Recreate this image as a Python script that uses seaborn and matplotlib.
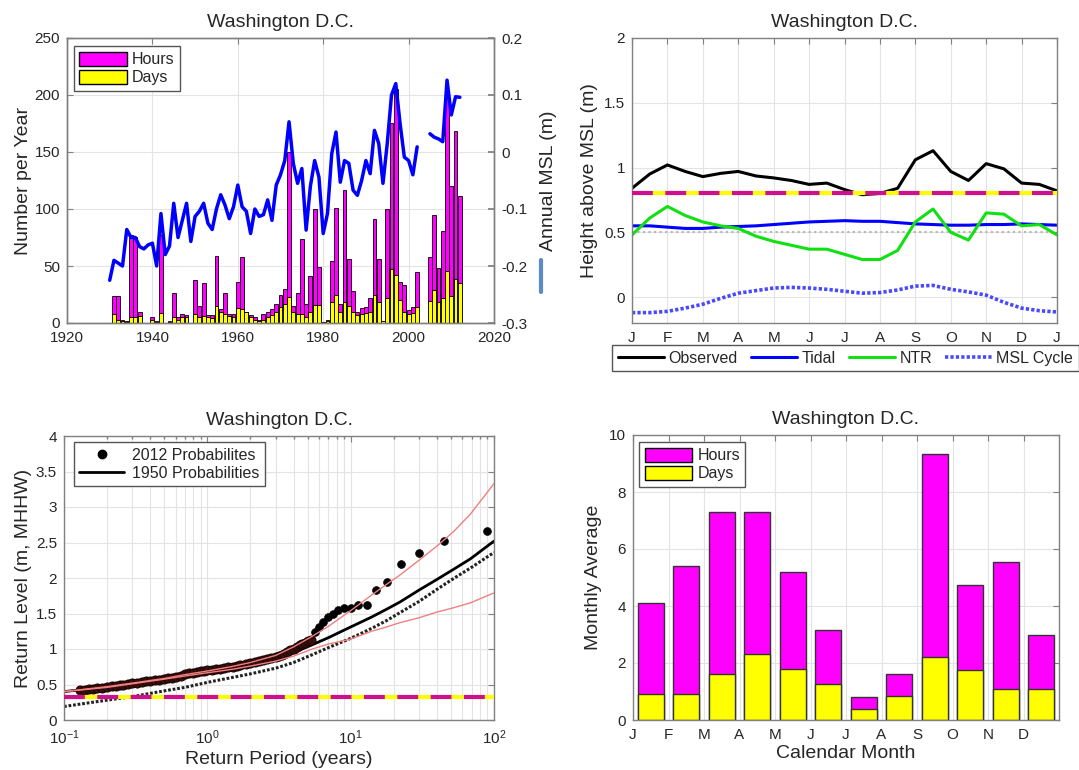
import numpy as np
import seaborn as sns
from matplotlib import pyplot as plt
from matplotlib.patches import Patch
from matplotlib.lines import Line2D

# ---------------- data ----------------
station = "Washington D.C."

# annual nuisance flooding (top left)
years = list(range(1931, 2013))
hours_per_year = [24, 24, 3, 2, 77, 75, 10, 0, 0, 5, 2, 77, 0, 2, 26, 5, 8, 7, 0, 38,
                  15, 35, 7, 7, 59, 12, 26, 8, 8, 36, 58, 10, 7, 5, 3, 8, 10, 12, 17, 25,
                  30, 150, 15, 26, 74, 17, 41, 100, 49, 1, 3, 54, 101, 17, 117, 56, 28, 10, 13, 14,
                  22, 91, 56, 2, 100, 175, 205, 36, 33, 11, 14, 45, 0, 0, 58, 95, 48, 81, 202, 120,
                  168, 111]
days_per_year = [8, 3, 2, 1, 5, 5, 6, 0, 0, 3, 1, 9, 0, 1, 5, 3, 5, 5, 0, 8,
                 5, 6, 5, 4, 15, 10, 8, 6, 5, 13, 12, 10, 5, 3, 2, 3, 5, 7, 10, 14,
                 17, 23, 10, 8, 8, 5, 10, 16, 16, 1, 2, 18, 25, 10, 18, 15, 10, 7, 8, 9,
                 10, 25, 18, 2, 22, 47, 42, 20, 10, 8, 9, 14, 0, 0, 19, 29, 18, 22, 46, 24,
                 39, 35]

msl_years_a = list(range(1930, 2003))
msl_a = [-0.225, -0.19, -0.195, -0.20, -0.136, -0.15, -0.15, -0.166, -0.17, -0.163,
         -0.16, -0.20, -0.108, -0.18, -0.165, -0.09, -0.15, -0.12, -0.09, -0.157,
         -0.113, -0.104, -0.09, -0.125, -0.136, -0.10, -0.075, -0.093, -0.117, -0.096,
         -0.058, -0.096, -0.104, -0.143, -0.10, -0.113, -0.11, -0.084, -0.12, -0.058,
         -0.04, -0.015, 0.053, -0.02, -0.055, -0.029, -0.137, -0.06, -0.015, -0.044,
         -0.143, -0.108, -0.003, 0.035, -0.053, -0.015, -0.02, -0.067, -0.076, -0.05,
         -0.015, -0.038, 0.038, 0.015, -0.055, 0.015, 0.10, 0.12, 0.05, -0.009,
         -0.015, -0.04, 0.009]
msl_years_b = list(range(2005, 2013))
msl_b = [0.032, 0.026, 0.023, 0.018, 0.126, 0.065, 0.097, 0.096]

# seasonal cycle (top right), every half month from Jan 1 to Jan 1
season_pos = [0, 0.5, 1, 1.5, 2, 2.5, 3, 3.5, 4, 4.5, 5, 5.5, 6, 6.5, 7, 7.5, 8, 8.5,
              9, 9.5, 10, 10.5, 11, 11.5, 12]
observed = [0.84, 0.95, 1.02, 0.97, 0.93, 0.955, 0.97, 0.935, 0.92, 0.90, 0.87, 0.88, 0.83,
            0.79, 0.80, 0.84, 1.06, 1.13, 0.97, 0.90, 1.03, 0.99, 0.88, 0.87, 0.82]
tidal = [0.55, 0.55, 0.54, 0.53, 0.53, 0.54, 0.545, 0.55, 0.56, 0.57, 0.58, 0.585, 0.59,
         0.585, 0.585, 0.575, 0.565, 0.56, 0.555, 0.555, 0.56, 0.56, 0.565, 0.56, 0.555]
ntr = [0.48, 0.61, 0.70, 0.63, 0.58, 0.55, 0.53, 0.47, 0.43, 0.40, 0.37, 0.37, 0.33,
       0.29, 0.29, 0.36, 0.58, 0.68, 0.50, 0.44, 0.65, 0.64, 0.55, 0.56, 0.48]
msl_cycle = [-0.12, -0.12, -0.11, -0.085, -0.055, -0.01, 0.03, 0.05, 0.07, 0.075, 0.07,
             0.06, 0.045, 0.03, 0.035, 0.055, 0.085, 0.09, 0.06, 0.04, 0.015, -0.04,
             -0.085, -0.105, -0.115]
season_labels = ["J", "F", "M", "A", "M", "J", "J", "A", "S", "O", "N", "D", "J"]
flood_msl = 0.8
mhhw_msl = 0.5

# return levels (bottom left)
rp_dense = [0.13, 0.14, 0.15, 0.16, 0.17, 0.185, 0.2, 0.215, 0.23, 0.245, 0.26, 0.28, 0.3,
            0.325, 0.35, 0.375, 0.4, 0.43, 0.46, 0.5, 0.53, 0.57, 0.6, 0.65, 0.7, 0.75, 0.8,
            0.85, 0.9, 0.95, 1.0, 1.07, 1.15, 1.22, 1.3, 1.4, 1.5, 1.6, 1.7, 1.85, 2.0, 2.15,
            2.3, 2.45, 2.6, 2.8, 3.0, 3.15, 3.3, 3.45, 3.6, 3.8, 4.0, 4.2, 4.4, 4.6, 4.8,
            5.05, 5.3]
rl_dense = [0.42, 0.425, 0.43, 0.438, 0.445, 0.455, 0.465, 0.472, 0.48, 0.488, 0.495, 0.505,
            0.515, 0.525, 0.535, 0.543, 0.55, 0.56, 0.57, 0.582, 0.59, 0.598, 0.605, 0.625,
            0.645, 0.655, 0.665, 0.675, 0.685, 0.693, 0.70, 0.708, 0.715, 0.722, 0.73, 0.74,
            0.75, 0.76, 0.77, 0.785, 0.80, 0.815, 0.83, 0.845, 0.86, 0.875, 0.89, 0.90, 0.91,
            0.935, 0.96, 0.98, 1.0, 1.025, 1.05, 1.07, 1.09, 1.11, 1.13]
rp_2012 = [90, 45, 30, 22.5, 18, 15, 12.9, 11.25, 10, 9, 8.2, 7.5, 6.9, 6.4, 6.0, 5.6]
rl_2012 = [2.66, 2.52, 2.355, 2.195, 1.94, 1.83, 1.615, 1.615, 1.58, 1.575, 1.555, 1.50,
           1.445, 1.385, 1.315, 1.245]
rp_fit = [0.1, 0.2, 0.3, 0.5, 0.7, 1, 1.5, 2, 3, 4, 5.4, 7, 10, 14, 17.8, 22, 30, 40, 52,
          68.5, 100]
rl_1950 = [0.40, 0.465, 0.515, 0.58, 0.63, 0.68, 0.74, 0.79, 0.87, 0.95, 1.06, 1.16, 1.31,
           1.45, 1.56, 1.66, 1.83, 1.98, 2.12, 2.27, 2.52]
rl_dotted = [0.19, 0.28, 0.33, 0.41, 0.46, 0.53, 0.60, 0.65, 0.73, 0.81, 0.92, 1.02, 1.15,
             1.29, 1.40, 1.51, 1.67, 1.84, 1.99, 2.14, 2.36]
rl_upper = [0.40, 0.47, 0.52, 0.585, 0.64, 0.69, 0.755, 0.81, 0.91, 1.03, 1.18, 1.32, 1.54,
            1.76, 1.91, 2.04, 2.25, 2.45, 2.65, 2.90, 3.33]
rl_lower = [0.40, 0.46, 0.51, 0.575, 0.62, 0.665, 0.715, 0.76, 0.83, 0.90, 1.00, 1.07, 1.14,
            1.25, 1.31, 1.37, 1.44, 1.52, 1.58, 1.65, 1.79]
flood_mhhw = 0.32

# monthly averages (bottom right)
months = ["J", "F", "M", "A", "M", "J", "J", "A", "S", "O", "N", "D"]
monthly_hours = [4.1, 5.4, 7.3, 7.3, 5.2, 3.15, 0.8, 1.6, 9.35, 4.75, 5.55, 3.0]
monthly_days = [0.9, 0.9, 1.6, 2.3, 1.8, 1.25, 0.4, 0.85, 2.2, 1.75, 1.1, 1.1]

# ---------------- style ----------------
sns.set_theme(style="whitegrid", rc={
    "grid.color": "#e3e3e3", "grid.linewidth": 0.8,
    "axes.edgecolor": "#808080", "axes.linewidth": 1.0,
    "xtick.direction": "in", "ytick.direction": "in",
    "xtick.major.size": 4, "ytick.major.size": 4,
    "xtick.color": "#262626", "ytick.color": "#262626",
    "axes.labelcolor": "#262626", "text.color": "#262626",
    "mathtext.default": "regular",
})
plt.rcParams["font.family"] = ["Liberation Sans", "DejaVu Sans"]

MAGENTA = "#ff00ff"
YELLOW = "#ffff00"
DASH_PINK = "#cc1090"
TICK_FS = 11
LAB_FS = 14
LEG_FS = 11.5

W, H = 1079, 770
fig = plt.figure(figsize=(W / 100, H / 100), dpi=100)


def px_rect(x0, y0, x1, y1):
    return [x0 / W, 1 - y1 / H, (x1 - x0) / W, (y1 - y0) / H]


def frame(ax):
    ax.tick_params(labelsize=TICK_FS, top=True, right=True, length=4, width=0.8,
                   color="#808080")
    ax.tick_params(axis="x", pad=6)
    ax.tick_params(axis="y", pad=5)
    ax.set_title(station, fontsize=LAB_FS, pad=8)


def flood_line(ax, level):
    ax.axhline(level, color=YELLOW, lw=3, zorder=6)
    ax.axhline(level, color=DASH_PINK, lw=3, dashes=(5, 3), zorder=7)


legend_style = dict(borderaxespad=0, fontsize=LEG_FS, fancybox=False, framealpha=1,
                    edgecolor="#555555", borderpad=0.35)

# ---------------- top left: annual counts + MSL ----------------
ax1 = fig.add_axes(px_rect(67, 38, 494, 323))
sns.barplot(x=years, y=hours_per_year, native_scale=True, width=0.9, color=MAGENTA,
            saturation=1, edgecolor="black", linewidth=0.6, errorbar=None, ax=ax1)
sns.barplot(x=years, y=days_per_year, native_scale=True, width=0.9, color=YELLOW,
            saturation=1, edgecolor="black", linewidth=0.6, errorbar=None, ax=ax1)
ax1.set_xlim(1920, 2020)
ax1.set_ylim(0, 250)
ax1.set_xticks(range(1920, 2021, 20))
ax1.set_yticks(range(0, 251, 50))
ax1.set_ylabel("Number per Year", fontsize=LAB_FS, labelpad=2)
ax1.set_xlabel("")
frame(ax1)
ax1.tick_params(right=False)
ax1.legend(handles=[Patch(facecolor=MAGENTA, edgecolor="black", label="Hours"),
                    Patch(facecolor=YELLOW, edgecolor="black", label="Days")],
           loc="upper left", bbox_to_anchor=(0.016, 0.972), handlelength=3.0,
           handleheight=1.0, labelspacing=0.15, handletextpad=0.3, **legend_style)

ax1b = ax1.twinx()
sns.lineplot(x=msl_years_a, y=msl_a, color="#0000ff", lw=2.5, estimator=None,
             sort=False, ax=ax1b)
sns.lineplot(x=msl_years_b, y=msl_b, color="#0000ff", lw=2.5, estimator=None,
             sort=False, ax=ax1b)
ax1b.set_ylim(-0.3, 0.2)
ax1b.set_yticks([-0.3, -0.2, -0.1, 0, 0.1, 0.2])
ax1b.set_yticklabels(["-0.3", "-0.2", "-0.1", "0", "0.1", "0.2"])
ax1b.grid(False)
ax1b.tick_params(labelsize=TICK_FS, direction="in", length=4, color="#808080", pad=5)
ax1b.set_ylabel("Annual MSL (m)", fontsize=LAB_FS, labelpad=9)
ax1b.set_xlim(1920, 2020)
fig.add_artist(Line2D([541 / W, 541 / W], [1 - 260 / H, 1 - 292 / H],
                      color="#5b8bc5", lw=3))

# ---------------- top right: seasonal cycle ----------------
ax2 = fig.add_axes(px_rect(632, 38, 1057, 323))
ax2.axhline(mhhw_msl, color="#b5b5b5", lw=1.5, ls=":", zorder=2)
sns.lineplot(x=season_pos, y=msl_cycle, color="#4848ff", lw=2.6, dashes=(0.9, 0.6),
             estimator=None, sort=False, ax=ax2)
sns.lineplot(x=season_pos, y=tidal, color="#0000ff", lw=2.2, estimator=None,
             sort=False, ax=ax2)
sns.lineplot(x=season_pos, y=ntr, color="#11e011", lw=2.2, estimator=None,
             sort=False, ax=ax2)
sns.lineplot(x=season_pos, y=observed, color="black", lw=2.2, estimator=None,
             sort=False, ax=ax2)
flood_line(ax2, flood_msl)
ax2.set_xlim(0, 12)
ax2.set_ylim(-0.2, 2)
ax2.set_xticks(range(len(season_labels)))
ax2.set_xticklabels(season_labels)
ax2.set_yticks([0, 0.5, 1, 1.5, 2])
ax2.set_yticklabels(["0", "0.5", "1", "1.5", "2"])
ax2.set_ylabel("Height above MSL (m)", fontsize=LAB_FS, labelpad=4)
ax2.set_xlabel("")
frame(ax2)
fig.legend(handles=[Line2D([], [], color="black", lw=2.2, label="Observed"),
                    Line2D([], [], color="#0000ff", lw=2.2, label="Tidal"),
                    Line2D([], [], color="#11e011", lw=2.2, label="NTR"),
                    Line2D([], [], color="#4848ff", lw=2.6, dashes=(0.9, 0.6),
                           label="MSL Cycle")],
           loc="upper left", bbox_to_anchor=(612 / W, 1 - 345 / H), ncol=4,
           handlelength=2.9, handletextpad=0.3, columnspacing=0.8, **legend_style)

# ---------------- bottom left: return levels ----------------
ax3 = fig.add_axes(px_rect(64, 436, 494, 720))
ax3.set_xscale("log")
sns.lineplot(x=rp_fit, y=rl_dotted, color="#222222", lw=2.2, dashes=(0.9, 0.6),
             estimator=None, sort=False, ax=ax3)
sns.lineplot(x=rp_fit, y=rl_1950, color="black", lw=2, estimator=None,
             sort=False, ax=ax3)
sns.lineplot(x=rp_dense, y=rl_dense, color="#3a0d0d", lw=5, marker="o",
             markersize=6.5, markeredgecolor="#1a0505", estimator=None, sort=False, ax=ax3)
sns.scatterplot(x=rp_2012, y=rl_2012, color="black", s=32, edgecolor="black",
                zorder=5, ax=ax3)
sns.lineplot(x=rp_fit, y=rl_upper, color="#f08080", lw=1, estimator=None,
             sort=False, ax=ax3, zorder=6)
sns.lineplot(x=rp_fit, y=rl_lower, color="#f08080", lw=1, estimator=None,
             sort=False, ax=ax3, zorder=6)
flood_line(ax3, flood_mhhw)
ax3.set_xlim(0.1, 100)
ax3.set_ylim(0, 4)
ax3.set_yticks([0, 0.5, 1, 1.5, 2, 2.5, 3, 3.5, 4])
ax3.set_yticklabels(["0", "0.5", "1", "1.5", "2", "2.5", "3", "3.5", "4"])
ax3.grid(True, which="minor", axis="x", color="#e3e3e3", lw=0.8)
ax3.tick_params(which="minor", direction="in", length=2, top=True, color="#808080")
ax3.set_xlabel("Return Period (years)", fontsize=LAB_FS, labelpad=3)
ax3.set_ylabel("Return Level (m, MHHW)", fontsize=LAB_FS, labelpad=3)
frame(ax3)
ax3.legend(handles=[Line2D([], [], color="black", marker="o", ls="none", markersize=6,
                           label="2012 Probabilites"),
                    Line2D([], [], color="black", lw=2, label="1950 Probabilities")],
           loc="upper left", bbox_to_anchor=(0.023, 0.979), handlelength=2.8,
           handletextpad=0.5, labelspacing=0.2, **legend_style)

# ---------------- bottom right: monthly averages ----------------
ax4 = fig.add_axes(px_rect(633, 435, 1059, 720))
month_centers = np.arange(len(months)) + 0.5
sns.barplot(x=month_centers, y=monthly_hours, native_scale=True, width=0.74,
            color=MAGENTA, saturation=1, edgecolor="#333333", linewidth=1,
            errorbar=None, ax=ax4)
sns.barplot(x=month_centers, y=monthly_days, native_scale=True, width=0.74,
            color=YELLOW, saturation=1, edgecolor="#333333", linewidth=1,
            errorbar=None, ax=ax4)
ax4.set_xlim(0, 12)
ax4.set_ylim(0, 10)
ax4.set_xticks(range(len(months)))
ax4.set_xticklabels(months)
ax4.set_yticks(range(0, 11, 2))
ax4.set_xlabel("Calendar Month", fontsize=LAB_FS, labelpad=2)
ax4.set_ylabel("Monthly Average", fontsize=LAB_FS, labelpad=5)
frame(ax4)
ax4.legend(handles=[Patch(facecolor=MAGENTA, edgecolor="black", label="Hours"),
                    Patch(facecolor=YELLOW, edgecolor="black", label="Days")],
           loc="upper left", bbox_to_anchor=(0.014, 0.975), handlelength=3.0,
           handleheight=1.0, labelspacing=0.15, handletextpad=0.3, **legend_style)

fig.savefig("out.png", dpi=100)
